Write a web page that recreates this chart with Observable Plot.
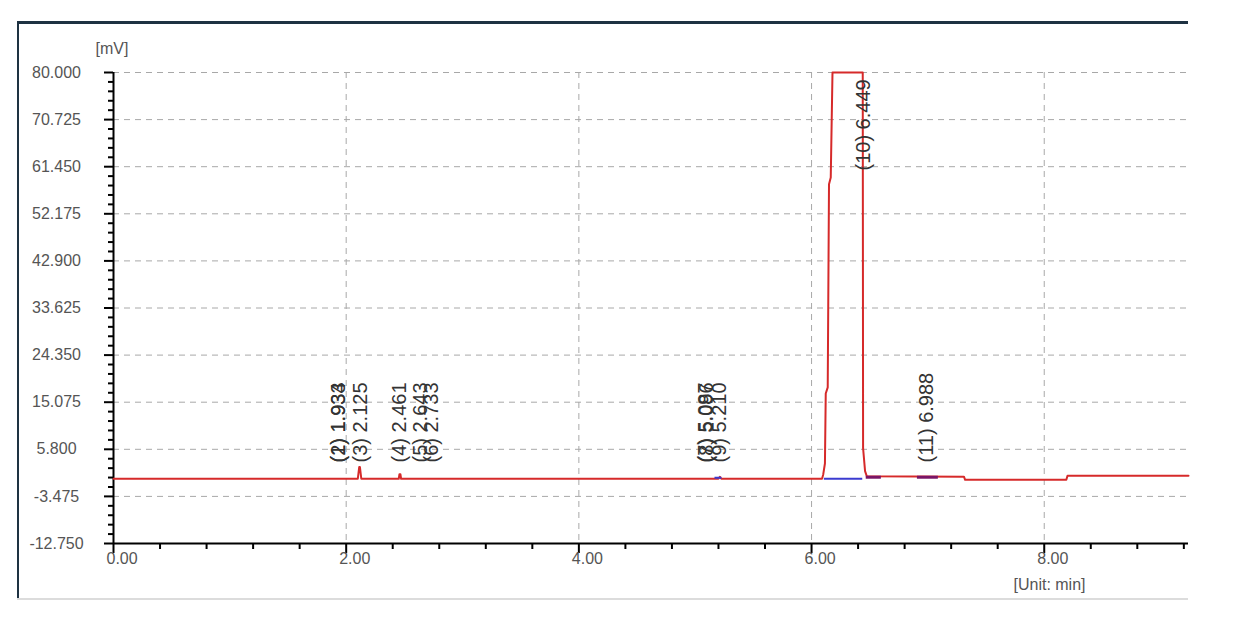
<!DOCTYPE html>
<html>
<head>
<meta charset="utf-8">
<script src="https://cdn.jsdelivr.net/npm/d3@7"></script>
<script src="https://cdn.jsdelivr.net/npm/@observablehq/plot@0.6"></script>
<style>
  html, body { margin: 0; padding: 0; background: #fff; }
  #wrap { position: relative; width: 1245px; height: 630px; overflow: hidden; font-family: "Liberation Sans", Arial, sans-serif; }
  #wrap svg { position: absolute; left: 0; top: 0; }
  .b { position: absolute; }
</style>
</head>
<body>
<div id="wrap">
  <div class="b" style="left:17px;top:21px;width:1171px;height:3px;background:#1e3242;"></div>
  <div class="b" style="left:17px;top:21px;width:2px;height:578px;background:#1e3242;"></div>
  <div class="b" style="left:17px;top:598px;width:1171px;height:2px;background:#dcdcdc;"></div>
</div>
<script>
// Y tick values and labels
const yTickValues = [80, 70.725, 61.45, 52.175, 42.9, 33.625, 24.35, 15.075, 5.8, -3.475, -12.75];
const yTickLabels = ["80.000", "70.725", "61.450", "52.175", "42.900", "33.625", "24.350", "15.075", "5.800", "-3.475", "-12.750"];
// X tick values and labels
const xTickValues = [0, 2, 4, 6, 8];
const xTickLabels = ["0.00", "2.00", "4.00", "6.00", "8.00"];

// Chromatogram trace (red)
const traceTime =   [0, 2.100, 2.112, 2.118, 2.130, 2.140, 2.452, 2.458, 2.466, 2.472, 5.200, 5.212, 5.224, 6.090, 6.100, 6.115, 6.122, 6.139, 6.150, 6.165, 6.180, 6.440, 6.443, 6.460, 6.475, 7.310, 7.320, 8.190, 8.200, 9.240];
const traceSignal = [0, 0,     2.3,   2.3,   0,     0,     0,     0.9,   0.9,   0,     0,     0.4,   0,     0,     0.8,   3.0,   16.8,  18.0,  58.0,  59.3,  80,    80,    6.0,   1.5,   0.5,   0.4,   -0.2,  -0.2,  0.6,   0.6];

// Integration baselines
const baseStart = [5.170, 6.110, 6.470, 6.910];
const baseEnd   = [5.230, 6.440, 6.600, 7.090];
const baseLevel = [0.2,   0.0,   0.3,   0.3];
const baseKind  = ["blue", "blue", "purple", "purple"];

// Peak labels
const peakNo    = [1, 2, 3, 4, 5, 6, 7, 8, 9, 10, 11];
const peakTime  = [1.933, 1.934, 2.125, 2.461, 2.643, 2.733, 5.087, 5.096, 5.210, 6.449, 6.988];
const labelAt   = [3.2, 3.2, 3.2, 3.2, 3.2, 3.2, 3.2, 3.2, 3.2, 60.7, 3.2];

const trace = traceTime.map((t, i) => ({t, v: traceSignal[i]}));
const bases = baseStart.map((s, i) => ({s, e: baseEnd[i], v: baseLevel[i], k: baseKind[i]}));
const peaks = peakNo.map((n, i) => ({t: peakTime[i], y: labelAt[i], label: `(${n}) ${peakTime[i].toFixed(3)}`}));
const yMinor = d3.range(0, 50).map(i => 80 - i * 1.855).filter(v => v >= -12.76 && !yTickValues.some(m => Math.abs(m - v) < 0.01));
const xMinor = d3.range(0, 24).map(i => +(i * 0.4).toFixed(2)).filter(v => v <= 9.24 && v % 2 !== 0);

const gray = "#555";
const chart = Plot.plot({
  width: 1245,
  height: 630,
  marginLeft: 113,
  marginRight: 57,
  marginTop: 72,
  marginBottom: 87,
  style: {fontFamily: "'Liberation Sans', Arial, sans-serif", background: "transparent", overflow: "visible"},
  x: {domain: [0, 9.24], axis: null},
  y: {domain: [-12.75, 80], axis: null},
  marks: [
    Plot.gridY({ticks: yTickValues.slice(0, -1), stroke: "#a8a8a8", strokeOpacity: 1, strokeDasharray: "6,5", strokeWidth: 1}),
    Plot.gridX({ticks: [2, 4, 6, 8], stroke: "#a8a8a8", strokeOpacity: 1, strokeDasharray: "6,5", strokeWidth: 1}),
    // axes lines
    Plot.ruleX([0], {stroke: "#000", strokeWidth: 2}),
    Plot.ruleY([-12.75], {stroke: "#000", strokeWidth: 2}),
    // ticks
    Plot.axisY({ticks: yTickValues, tickSize: 9, tickFormat: () => "", stroke: "#000", strokeWidth: 2}),
    Plot.axisY({ticks: yMinor, tickSize: 5, tickFormat: () => "", stroke: "#000", strokeWidth: 2}),
    Plot.axisX({ticks: xTickValues, tickSize: 10, tickFormat: () => "", stroke: "#000", strokeWidth: 2}),
    Plot.axisX({ticks: xMinor, tickSize: 6, tickFormat: () => "", stroke: "#000", strokeWidth: 2}),
    // tick labels
    Plot.text(yTickValues, {y: d => d, text: (d, i) => yTickLabels[i], frameAnchor: "left", dx: -57, textAnchor: "middle", fontSize: 16, fill: gray}),
    Plot.text(xTickValues, {x: d => d, text: (d, i) => xTickLabels[i], frameAnchor: "bottom", dy: 20, dx: -7, textAnchor: "start", fontSize: 16, fill: gray}),
    Plot.text(["[mV]"], {frameAnchor: "top-left", dx: -18, dy: -30, textAnchor: "start", fontSize: 16, fill: gray}),
    Plot.text(["[Unit: min]"], {frameAnchor: "bottom-right", dx: -175, dy: 46, textAnchor: "start", fontSize: 16, fill: gray}),
    // trace
    Plot.line(trace, {x: "t", y: "v", stroke: "#d62a2a", strokeWidth: 2, curve: "linear"}),
    // baselines
    Plot.ruleY(bases.filter(d => d.k === "blue"), {x1: "s", x2: "e", y: "v", stroke: "#3b3bd0", strokeWidth: 2}),
    Plot.ruleY(bases.filter(d => d.k === "purple"), {x1: "s", x2: "e", y: "v", stroke: "#7a1566", strokeWidth: 3}),
    // peak labels
    Plot.text(peaks, {x: "t", y: "y", text: "label", rotate: -90, textAnchor: "start", lineAnchor: "middle", fontSize: 20, fill: "#333"})
  ]
});
document.getElementById("wrap").prepend(chart);
</script>
</body>
</html>
